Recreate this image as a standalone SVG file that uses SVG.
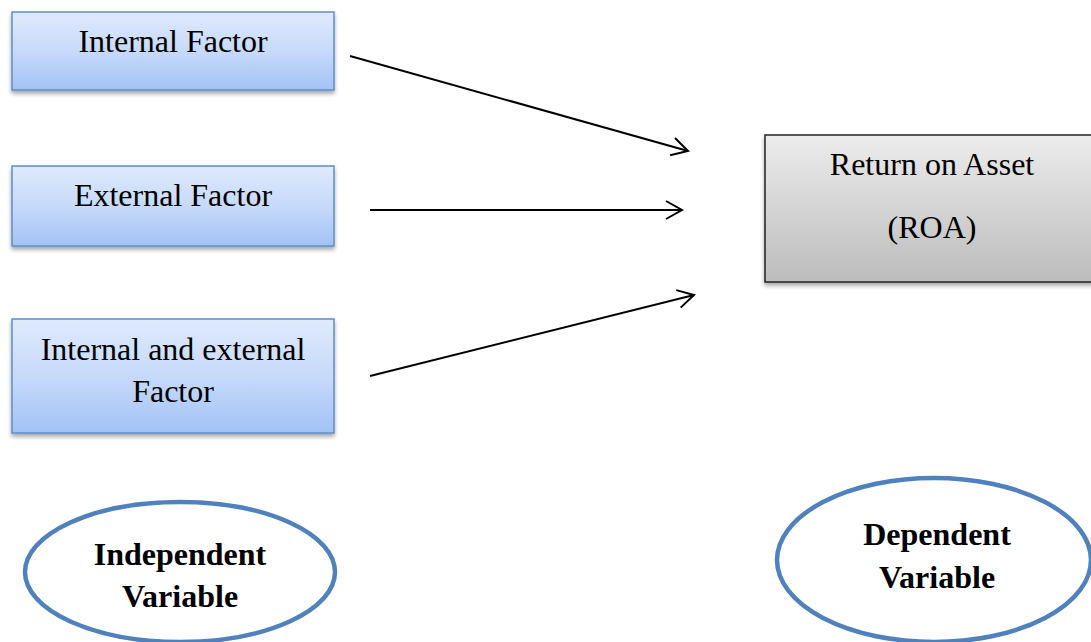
<svg xmlns="http://www.w3.org/2000/svg" width="1091" height="642" viewBox="0 0 1091 642">
<style>
.t{font-family:"Liberation Serif","Times New Roman",serif;font-size:32px;fill:#000;text-anchor:middle}
.b{font-weight:bold}
.blue{fill:url(#gBlue);stroke:#5b8ec9;stroke-width:1.5;filter:url(#sh)}
.gray{fill:url(#gGray);stroke:#222;stroke-width:1.5;filter:url(#sh)}
.ell{fill:#fff;stroke:#4f81bd;stroke-width:4.5}
.conn{stroke:#000;stroke-width:2;fill:none;marker-end:url(#arr)}
</style>
<defs>
<linearGradient id="gBlue" x1="0" y1="0" x2="0" y2="1">
<stop offset="0" stop-color="#dfeafd"/><stop offset="0.5" stop-color="#c7dafa"/><stop offset="1" stop-color="#a2c2f5"/>
</linearGradient>
<linearGradient id="gGray" x1="0" y1="0" x2="0" y2="1">
<stop offset="0" stop-color="#ececec"/><stop offset="1" stop-color="#bcbcbc"/>
</linearGradient>
<filter id="sh" x="-10%" y="-10%" width="120%" height="130%">
<feGaussianBlur in="SourceAlpha" stdDeviation="2"/>
<feOffset dx="0" dy="3" result="o"/>
<feComponentTransfer><feFuncA type="linear" slope="0.35"/></feComponentTransfer>
<feMerge><feMergeNode/><feMergeNode in="SourceGraphic"/></feMerge>
</filter>
<marker id="arr" markerWidth="12" markerHeight="12" refX="10" refY="6" orient="auto" markerUnits="userSpaceOnUse" viewBox="0 0 12 12" overflow="visible">
<path d="M-6,-3 L10,6 L-6,15" fill="none" stroke="#000" stroke-width="2"/>
</marker>
</defs>
<g id="n-internal">
<rect class="blue" x="12" y="12" width="322" height="78"/>
<text class="t" x="173" y="52">Internal Factor</text>
</g>
<g id="n-external">
<rect class="blue" x="12" y="166" width="322" height="80"/>
<text class="t" x="173" y="206">External Factor</text>
</g>
<g id="n-both">
<rect class="blue" x="12" y="319" width="322" height="114"/>
<text class="t" x="173" y="360">Internal and external</text>
<text class="t" x="173" y="402">Factor</text>
</g>
<g id="n-roa">
<rect class="gray" x="765" y="135" width="340" height="147"/>
<text class="t" x="932" y="175">Return on Asset</text>
<text class="t" x="932" y="238">(ROA)</text>
</g>
<g id="n-indep">
<ellipse class="ell" cx="180" cy="572" rx="155" ry="70"/>
<text class="t b" x="180" y="565">Independent</text>
<text class="t b" x="180" y="607">Variable</text>
</g>
<g id="n-dep">
<ellipse class="ell" cx="934" cy="560" rx="157" ry="82"/>
<text class="t b" x="937" y="545">Dependent</text>
<text class="t b" x="937" y="588">Variable</text>
</g>
<g id="connectors">
<line class="conn" x1="350" y1="56" x2="688" y2="151"/>
<line class="conn" x1="370" y1="210" x2="682" y2="210"/>
<line class="conn" x1="370" y1="376" x2="694" y2="295"/>
</g>
</svg>
